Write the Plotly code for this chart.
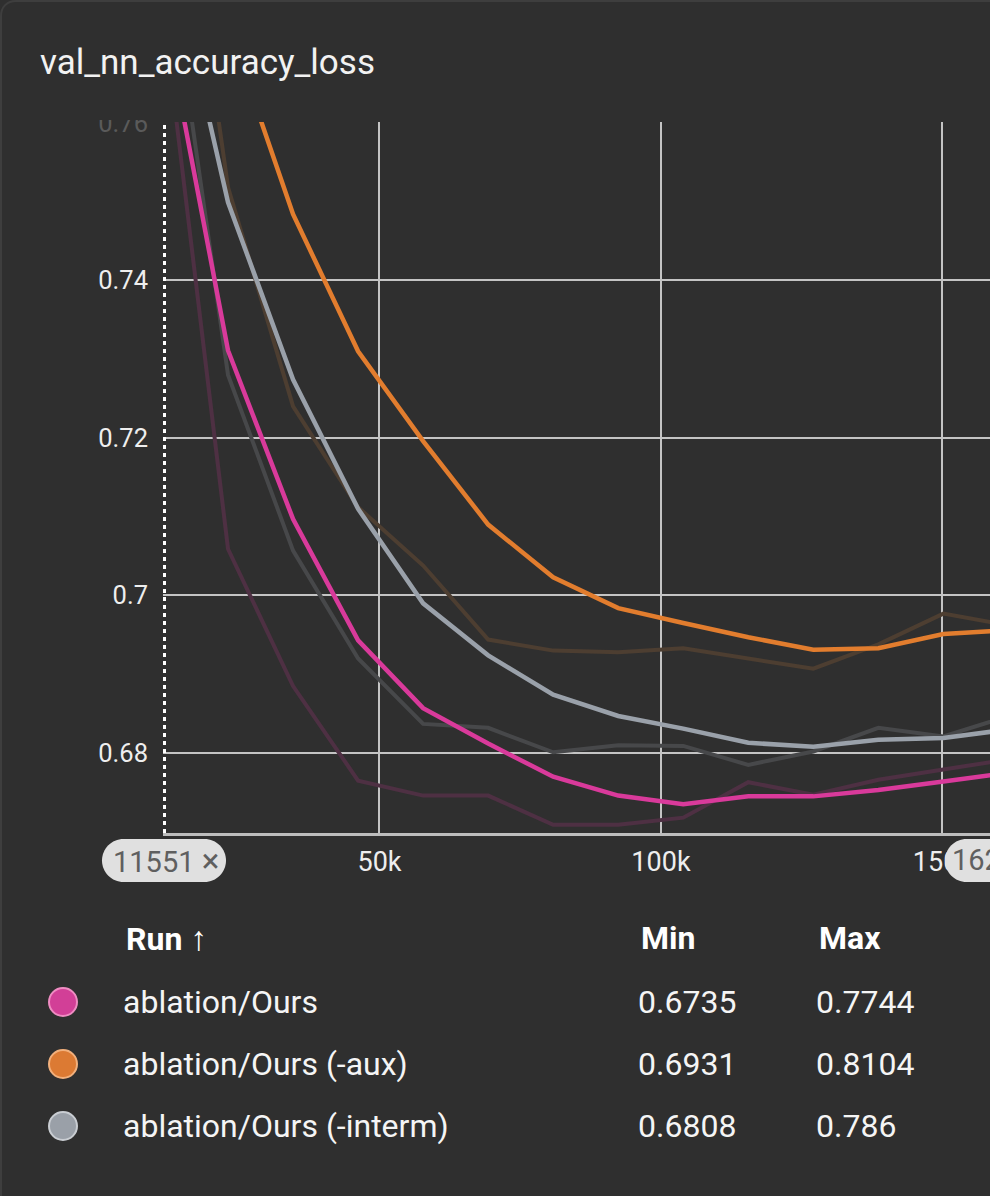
import plotly.graph_objects as go

# ---------------- data ----------------
steps = [11551, 23102, 34653, 46204, 57755, 69306, 80857, 92408,
         103959, 115510, 127061, 138612, 150163, 161714]

runs = ["ablation/Ours", "ablation/Ours (-aux)", "ablation/Ours (-interm)"]

ours_smoothed = [0.7744, 0.7311, 0.7097, 0.6943, 0.6857, 0.6812, 0.6770, 0.6746,
                 0.6735, 0.6745, 0.6745, 0.6753, 0.6764, 0.6775]
ours_raw = [0.7744, 0.7059, 0.6885, 0.6765, 0.6746, 0.6746, 0.6709, 0.6709,
            0.6718, 0.6763, 0.6747, 0.6766, 0.6779, 0.6792]

aux_smoothed = [0.8104, 0.7724, 0.7484, 0.7310, 0.7196, 0.7090, 0.7023, 0.6984,
                0.6965, 0.6947, 0.6931, 0.6933, 0.6951, 0.6956]
aux_raw = [0.8104, 0.7518, 0.7240, 0.7112, 0.7038, 0.6944, 0.6930, 0.6928,
           0.6933, 0.6920, 0.6907, 0.6938, 0.6977, 0.6962]

interm_smoothed = [0.7860, 0.7499, 0.7274, 0.7110, 0.6990, 0.6924, 0.6874, 0.6847,
                   0.6831, 0.6813, 0.6808, 0.6817, 0.6819, 0.6830]
interm_raw = [0.7860, 0.7280, 0.7057, 0.6920, 0.6837, 0.6832, 0.6801, 0.6810,
              0.6809, 0.6785, 0.6802, 0.6832, 0.6821, 0.6847]

x_tickvals = [50000, 100000, 150000]
x_ticktext = ["50k", "100k", "150k"]
y_tickvals = [0.68, 0.70, 0.72, 0.74, 0.76]
y_ticktext = ["0.68", "0.7", "0.72", "0.74", "<span style='color:#5a5a5a'>0.76</span>"]

smoothed = [ours_smoothed, aux_smoothed, interm_smoothed]
raw = [ours_raw, aux_raw, interm_raw]

# ---------------- style ----------------
BG = "#2f2f2f"
FONT = "Roboto"
main_colors = ["#d93a9b", "#e27d2e", "#9aa1aa"]
raw_colors = ["#4e3043", "#4d3e31", "#47484a"]
dot_fill = ["#d23f97", "#dc7a33", "#9aa0a8"]
dot_edge = ["#ef8cc2", "#f2b07c", "#c9cdd2"]

W, H = 990, 1196
L, R, T, B = 163, 990, 122, 833


def px(x):
    return (x - L) / (R - L)


def py(y):
    return (B - y) / (B - T)


def rounded_rect(x0, y0, x1, y1, r):
    k = 0.5523 * r
    pts = []
    pts.append(f"M {px(x0 + r)},{py(y0)}")
    pts.append(f"L {px(x1 - r)},{py(y0)}")
    pts.append(f"C {px(x1 - r + k)},{py(y0)} {px(x1)},{py(y0 + r - k)} {px(x1)},{py(y0 + r)}")
    pts.append(f"L {px(x1)},{py(y1 - r)}")
    pts.append(f"C {px(x1)},{py(y1 - r + k)} {px(x1 - r + k)},{py(y1)} {px(x1 - r)},{py(y1)}")
    pts.append(f"L {px(x0 + r)},{py(y1)}")
    pts.append(f"C {px(x0 + r - k)},{py(y1)} {px(x0)},{py(y1 - r + k)} {px(x0)},{py(y1 - r)}")
    pts.append(f"L {px(x0)},{py(y0 + r)}")
    pts.append(f"C {px(x0)},{py(y0 + r - k)} {px(x0 + r - k)},{py(y0)} {px(x0 + r)},{py(y0)}")
    pts.append("Z")
    return " ".join(pts)


fig = go.Figure()

for i in range(3):
    fig.add_trace(go.Scatter(x=steps, y=raw[i], mode="lines",
                             line=dict(color=raw_colors[i], width=4),
                             showlegend=False, hoverinfo="skip"))
for i in range(3):
    fig.add_trace(go.Scatter(x=steps, y=smoothed[i], mode="lines", name=runs[i],
                             line=dict(color=main_colors[i], width=4.5),
                             showlegend=False))

shapes = []
annotations = []

# card border
shapes.append(dict(type="path", xref="paper", yref="paper", layer="above",
                   path=f"M {px(1)},{py(1196)} L {px(1)},{py(16)} C {px(1)},{py(7)} {px(7)},{py(1)} {px(16)},{py(1)} L {px(992)},{py(1)}",
                   line=dict(color="#3e3e3e", width=2)))

# dashed left marker
shapes.append(dict(type="line", xref="paper", yref="paper", x0=px(164.5), x1=px(164.5),
                   y0=0, y1=1, layer="above",
                   line=dict(color="#ffffff", width=3, dash="4px,4px")))

# cover upper half of top tick label (clipped look)
shapes.append(dict(type="rect", xref="paper", yref="paper", layer="above",
                   x0=px(60), x1=px(160), y0=py(120), y1=py(90),
                   fillcolor=BG, line=dict(width=0)))

# pills
shapes.append(dict(type="path", xref="paper", yref="paper", layer="above",
                   path=rounded_rect(102, 839, 226, 882, 21.5),
                   fillcolor="#e0e0e0", line=dict(width=0)))
shapes.append(dict(type="path", xref="paper", yref="paper", layer="above",
                   path=rounded_rect(945, 839, 1060, 882, 21.5),
                   fillcolor="#e0e0e0", line=dict(width=0)))
annotations.append(dict(xref="paper", yref="paper", x=px(111), y=py(860),
                        text="11551 <span style='font-size:33px'>×</span>", showarrow=False,
                        xanchor="left", yanchor="middle",
                        font=dict(family=FONT, size=29, color="#5f5f5f")))
annotations.append(dict(xref="paper", yref="paper", x=px(950), y=py(860),
                        text="162k", showarrow=False, xanchor="left", yanchor="middle",
                        font=dict(family=FONT, size=29, color="#5f5f5f")))

# title
annotations.append(dict(xref="paper", yref="paper", x=px(38), y=py(63),
                        text="val_nn_accuracy_loss", showarrow=False,
                        xanchor="left", yanchor="middle",
                        font=dict(family=FONT, size=35, color="#f2f2f2")))

# table header
TF = 32
hdr_y = py(938)
annotations.append(dict(xref="paper", yref="paper", x=px(124), y=hdr_y,
                        text="<b>Run</b> <span style='font-size:34px'>↑</span>", showarrow=False,
                        xanchor="left", yanchor="middle",
                        font=dict(family=FONT, size=TF, color="#ffffff")))
annotations.append(dict(xref="paper", yref="paper", x=px(639), y=hdr_y,
                        text="<b>Min</b>", showarrow=False, xanchor="left", yanchor="middle",
                        font=dict(family=FONT, size=TF, color="#ffffff")))
annotations.append(dict(xref="paper", yref="paper", x=px(817), y=hdr_y,
                        text="<b>Max</b>", showarrow=False, xanchor="left", yanchor="middle",
                        font=dict(family=FONT, size=TF, color="#ffffff")))

row_ys = [1002, 1064, 1126]
for i in range(3):
    yy = row_ys[i]
    shapes.append(dict(type="circle", xref="paper", yref="paper", layer="above",
                       x0=px(63 - 14), x1=px(63 + 14), y0=py(yy + 14), y1=py(yy - 14),
                       fillcolor=dot_fill[i], line=dict(color=dot_edge[i], width=2)))
    annotations.append(dict(xref="paper", yref="paper", x=px(121), y=py(yy),
                            text=runs[i], showarrow=False, xanchor="left", yanchor="middle",
                            font=dict(family=FONT, size=TF, color="#f5f5f5")))
    annotations.append(dict(xref="paper", yref="paper", x=px(636), y=py(yy),
                            text=f"{min(smoothed[i]):.4g}", showarrow=False,
                            xanchor="left", yanchor="middle",
                            font=dict(family=FONT, size=TF, color="#f5f5f5")))
    annotations.append(dict(xref="paper", yref="paper", x=px(814), y=py(yy),
                            text=f"{max(smoothed[i]):.4g}", showarrow=False,
                            xanchor="left", yanchor="middle",
                            font=dict(family=FONT, size=TF, color="#f5f5f5")))

fig.update_layout(
    width=W, height=H,
    margin=dict(l=L, r=W - R, t=T, b=H - B, pad=0),
    paper_bgcolor=BG, plot_bgcolor=BG,
    font=dict(family=FONT, color="#eeeeee"),
    showlegend=False,
    shapes=shapes, annotations=annotations,
    xaxis=dict(range=[11551, 158443], tickvals=x_tickvals, ticktext=x_ticktext,
               showgrid=True, gridcolor="#c4c4c4", gridwidth=2,
               showline=True, linecolor="#bdbdbd", linewidth=3,
               zeroline=False, ticks="", ticklabelstandoff=3,
               tickfont=dict(family=FONT, size=27, color="#eeeeee")),
    yaxis=dict(range=[0.66985, 0.7601], tickvals=y_tickvals, ticktext=y_ticktext,
               showgrid=True, gridcolor="#c4c4c4", gridwidth=2,
               showline=False, zeroline=False, ticks="", ticklabelstandoff=14,
               tickfont=dict(family=FONT, size=25.5, color="#eeeeee")),
)

fig.write_html("out.html",
               config={"displayModeBar": False},
               post_script="document.body.style.margin='0';document.body.style.background='#2f2f2f';document.body.style.overflow='hidden';")
